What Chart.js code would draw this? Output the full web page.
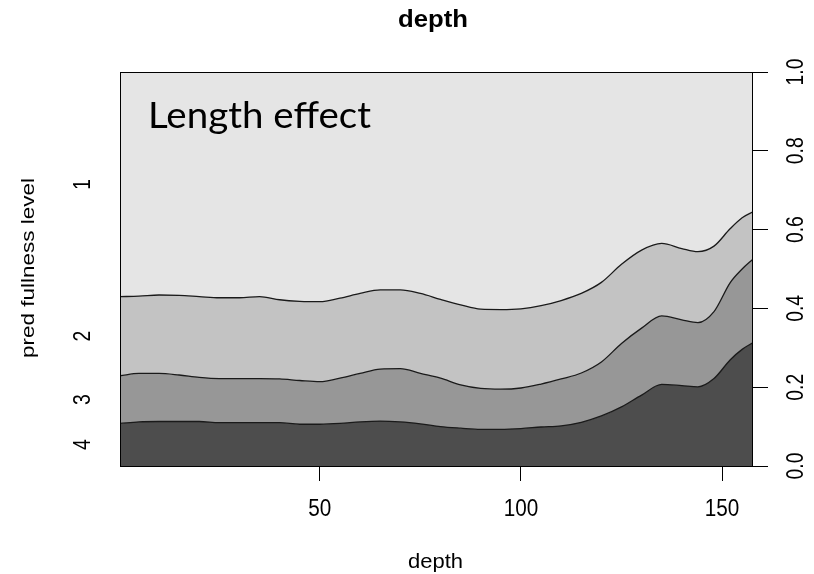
<!DOCTYPE html>
<html>
<head>
<meta charset="utf-8">
<script src="https://cdn.jsdelivr.net/npm/chart.js@4"></script>
<style>
  html, body { margin: 0; padding: 0; background: #ffffff; }
  #wrap { width: 814px; height: 574px; }
</style>
</head>
<body>
<div id="wrap"><canvas id="c" width="814" height="574"></canvas></div>
<script>
// ---- data ----
const depths = [0.3,5,10,15,20,25,30,35,40,45,50,55,60,65,70,75,80,85,90,95,100,105,110,115,120,125,130,135,140,144,148,152,155,157.7];
// cumulative predicted probability boundaries (from bottom): level 4, levels 3-4, levels 2-4
const upTo4 = [0.108,0.112,0.113,0.113,0.113,0.110,0.110,0.110,0.110,0.106,0.106,0.108,0.112,0.114,0.112,0.107,0.100,0.096,0.093,0.093,0.095,0.099,0.102,0.111,0.127,0.150,0.180,0.207,0.204,0.201,0.222,0.269,0.296,0.313];
const upTo3 = [0.229,0.235,0.235,0.231,0.225,0.222,0.222,0.222,0.221,0.217,0.214,0.223,0.235,0.246,0.247,0.235,0.223,0.206,0.197,0.195,0.198,0.208,0.221,0.236,0.264,0.311,0.350,0.381,0.371,0.364,0.392,0.465,0.500,0.525];
const upTo2 = [0.430,0.431,0.434,0.433,0.430,0.427,0.427,0.430,0.422,0.418,0.417,0.426,0.438,0.447,0.447,0.438,0.423,0.409,0.398,0.397,0.399,0.407,0.420,0.438,0.466,0.512,0.548,0.565,0.552,0.544,0.558,0.602,0.630,0.645];
const levelLabels = ["1","2","3","4"];
const xTicks = [50,100,150];
const yTicks = [0,0.2,0.4,0.6,0.8,1.0];
const yTickLabels = ["0.0","0.2","0.4","0.6","0.8","1.0"];
const titleText = "depth";
const xTitle = "depth";
const yTitle = "pred fullness level";
const note = "Length effect";

const pts = arr => arr.map((v,i)=>({x: depths[i], y: v}));

function txt(ctx, s, x, y, o) {
  ctx.save();
  ctx.font = o.font;
  ctx.fillStyle = o.color || '#000';
  ctx.translate(x, y);
  if (o.rot) ctx.rotate(o.rot);
  let k = o.sx || 1;
  if (o.fit) k = o.fit / ctx.measureText(s).width;
  ctx.scale(k, 1);
  ctx.textAlign = o.align || 'center';
  ctx.textBaseline = 'alphabetic';
  ctx.fillText(s, 0, 0);
  ctx.restore();
}

const decor = {
  id: 'decor',
  afterDraw(chart) {
    const ctx = chart.ctx, a = chart.chartArea;
    const xs = chart.scales.x, ys = chart.scales.y;
    // plot box
    ctx.save();
    ctx.strokeStyle = '#000';
    ctx.lineWidth = 1;
    ctx.strokeRect(Math.round(a.left)+0.5, Math.round(a.top)+0.5, Math.round(a.right-a.left)-1, Math.round(a.bottom-a.top));
    ctx.restore();
    const SANS = '"Liberation Sans", Arial, sans-serif';
    // title
    txt(ctx, titleText, 433, 26.5, {font: 'bold 24px ' + SANS, fit: 70});
    // x tick labels
    xTicks.forEach(v => {
      txt(ctx, String(v), xs.getPixelForValue(v), 516, {font: '23px ' + SANS, sx: 0.9});
    });
    // x title
    txt(ctx, xTitle, 435.5, 567.5, {font: '21px ' + SANS, fit: 55});
    // right y tick labels (rotated)
    yTicks.forEach((v,i) => {
      txt(ctx, yTickLabels[i], 803, ys.getPixelForValue(v), {font: '23px ' + SANS, rot: -Math.PI/2, sx: 0.84});
    });
    // left level labels at band middles at the left edge
    const b = [1, upTo2[0], upTo3[0], upTo4[0], 0];
    levelLabels.forEach((s,i) => {
      const mid = (b[i] + b[i+1]) / 2;
      txt(ctx, s, 90, ys.getPixelForValue(mid), {font: '23px ' + SANS, rot: -Math.PI/2, sx: 0.84});
    });
    // y title
    txt(ctx, yTitle, 33.5, 268, {font: '18px ' + SANS, rot: -Math.PI/2, fit: 180});
    // annotation
    txt(ctx, note, 148, 128, {font: '36px Lato, "Open Sans", sans-serif', align: 'left', fit: 223});
  }
};

const line = {borderColor: '#1a1a1a', borderWidth: 1.3, pointRadius: 0, cubicInterpolationMode: 'monotone'};

new Chart(document.getElementById('c'), {
  type: 'line',
  data: {
    datasets: [
      Object.assign({label: '4', data: pts(upTo4), fill: 'origin', backgroundColor: '#4d4d4d'}, line),
      Object.assign({label: '3', data: pts(upTo3), fill: '-1', backgroundColor: '#979797'}, line),
      Object.assign({label: '2', data: pts(upTo2), fill: '-1', backgroundColor: '#c3c3c3'}, line),
      Object.assign({label: '1', data: pts(upTo2), fill: 'end', backgroundColor: '#e5e5e5'}, line, {borderWidth: 0})
    ]
  },
  options: {
    responsive: false,
    devicePixelRatio: 1,
    animation: false,
    events: [],
    layout: {padding: {top: 72, left: 120, right: 0, bottom: 0}},
    plugins: {legend: {display: false}, tooltip: {enabled: false}, title: {display: false}},
    scales: {
      x: {
        type: 'linear',
        min: depths[0],
        max: depths[depths.length-1],
        border: {display: false},
        grid: {drawOnChartArea: false, drawTicks: true, tickLength: 15, color: '#000', lineWidth: 1},
        ticks: {display: false},
        afterBuildTicks: s => { s.ticks = xTicks.map(v => ({value: v})); },
        afterFit: s => { s.height = 108; }
      },
      y: {
        position: 'right',
        min: 0,
        max: 1,
        border: {display: false},
        grid: {drawOnChartArea: false, drawTicks: true, tickLength: 15, color: '#000', lineWidth: 1},
        ticks: {display: false},
        afterBuildTicks: s => { s.ticks = yTicks.map(v => ({value: v})); },
        afterFit: s => { s.width = 61; }
      }
    }
  },
  plugins: [decor]
});
</script>
</body>
</html>
